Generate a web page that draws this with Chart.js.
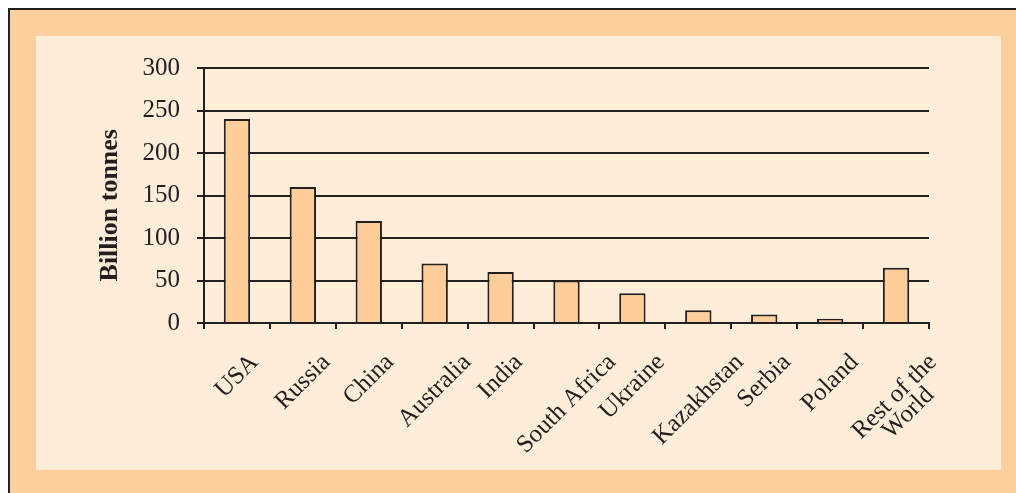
<!DOCTYPE html>
<html>
<head>
<meta charset="utf-8">
<script src="https://cdn.jsdelivr.net/npm/chart.js@4.4.1/dist/chart.umd.min.js"></script>
<style>
  html, body { margin: 0; padding: 0; background: #fff; }
  #frame {
    position: absolute; left: 8px; top: 8px; width: 1020px; height: 500px;
    background: #fdcf9c; border-left: 2px solid #231f20; border-top: 2px solid #231f20;
  }
  #panel {
    position: absolute; left: 36px; top: 36px; width: 965px; height: 434px;
    background: #fdedd9;
  }
  canvas { display: block; }
</style>
</head>
<body>
<div id="frame"></div>
<div id="panel"><canvas id="reserves" width="965" height="434"></canvas></div>
<script>
// coal reserves by country, billion tonnes
var countries = ['USA', 'Russia', 'China', 'Australia', 'India', 'South Africa',
  'Ukraine', 'Kazakhstan', 'Serbia', 'Poland', ['Rest of the', 'World    ']];
var reserves = [240, 160, 120, 70, 60, 50, 35, 15, 10, 5, 65];
var yTicks = [0, 50, 100, 150, 200, 250, 300];

var ink = '#231f20';
var serif = 'Liberation Serif, Times New Roman, serif';

// slanted x labels: centre each label's box under its bar instead of
// pinning the end of the text to the tick
var centreSlantedLabels = {
  id: 'centreSlantedLabels',
  beforeDraw: function(chart) {
    var sc = chart.scales.x;
    var items = sc.getLabelItems();
    var ctx = chart.ctx;
    for (var i = 0; i < items.length; i++) {
      var it = items[i];
      if (it._centred) continue;
      var lines = Array.isArray(it.label) ? it.label : [it.label];
      ctx.save();
      ctx.font = it.font.string;
      var w = 0;
      for (var j = 0; j < lines.length; j++) {
        w = Math.max(w, ctx.measureText(lines[j]).width);
      }
      ctx.restore();
      var lh = it.font.lineHeight;
      it.options.translation[0] += 0.354 * w - 0.354 * (lines.length - 1) * lh + (lines.length > 1 ? 6 : 0);
      it._centred = true;
    }
  }
};

function chart(chartID, labels, values) {
  var ctx = document.getElementById(chartID).getContext('2d');
  return new Chart(ctx, {
    type: 'bar',
    data: {
      labels: labels,
      datasets: [{
        label: 'Billion tonnes',
        data: values,
        backgroundColor: '#fdce99',
        borderColor: ink,
        borderWidth: 2,
        categoryPercentage: 1,
        barPercentage: 0.4
      }]
    },
    plugins: [centreSlantedLabels],
    options: {
      responsive: false,
      animation: false,
      devicePixelRatio: 1,
      layout: { padding: { left: 59, top: 32, right: 72, bottom: 0 } },
      plugins: { legend: { display: false }, tooltip: { enabled: false } },
      scales: {
        x: {
          grid: { display: true, drawOnChartArea: false, drawTicks: true, tickLength: 6, color: ink, lineWidth: 2 },
          border: { display: true, color: ink, width: 2 },
          ticks: {
            color: ink, font: { family: serif, size: 25, lineHeight: 0.85 },
            maxRotation: 45, minRotation: 45, autoSkip: false,
            labelOffset: 0, padding: 22
          },
          afterFit: function(s) { s.height = 147; }
        },
        y: {
          min: 0, max: 300,
          afterBuildTicks: function(s) { s.ticks = yTicks.map(function(v) { return { value: v }; }); },
          grid: { color: ink, lineWidth: 2, tickLength: 7 },
          border: { display: true, color: ink, width: 2 },
          ticks: { color: ink, font: { family: serif, size: 25 }, padding: 17 },
          title: {
            // trailing spaces nudge the title a little below the axis centre
            display: true, text: 'Billion tonnes   ', color: ink, padding: 0,
            font: { family: serif, size: 26, weight: 'bold' }
          },
          afterFit: function(s) { s.width = 109; }
        }
      }
    }
  });
}

chart('reserves', countries, reserves);
</script>
</body>
</html>
